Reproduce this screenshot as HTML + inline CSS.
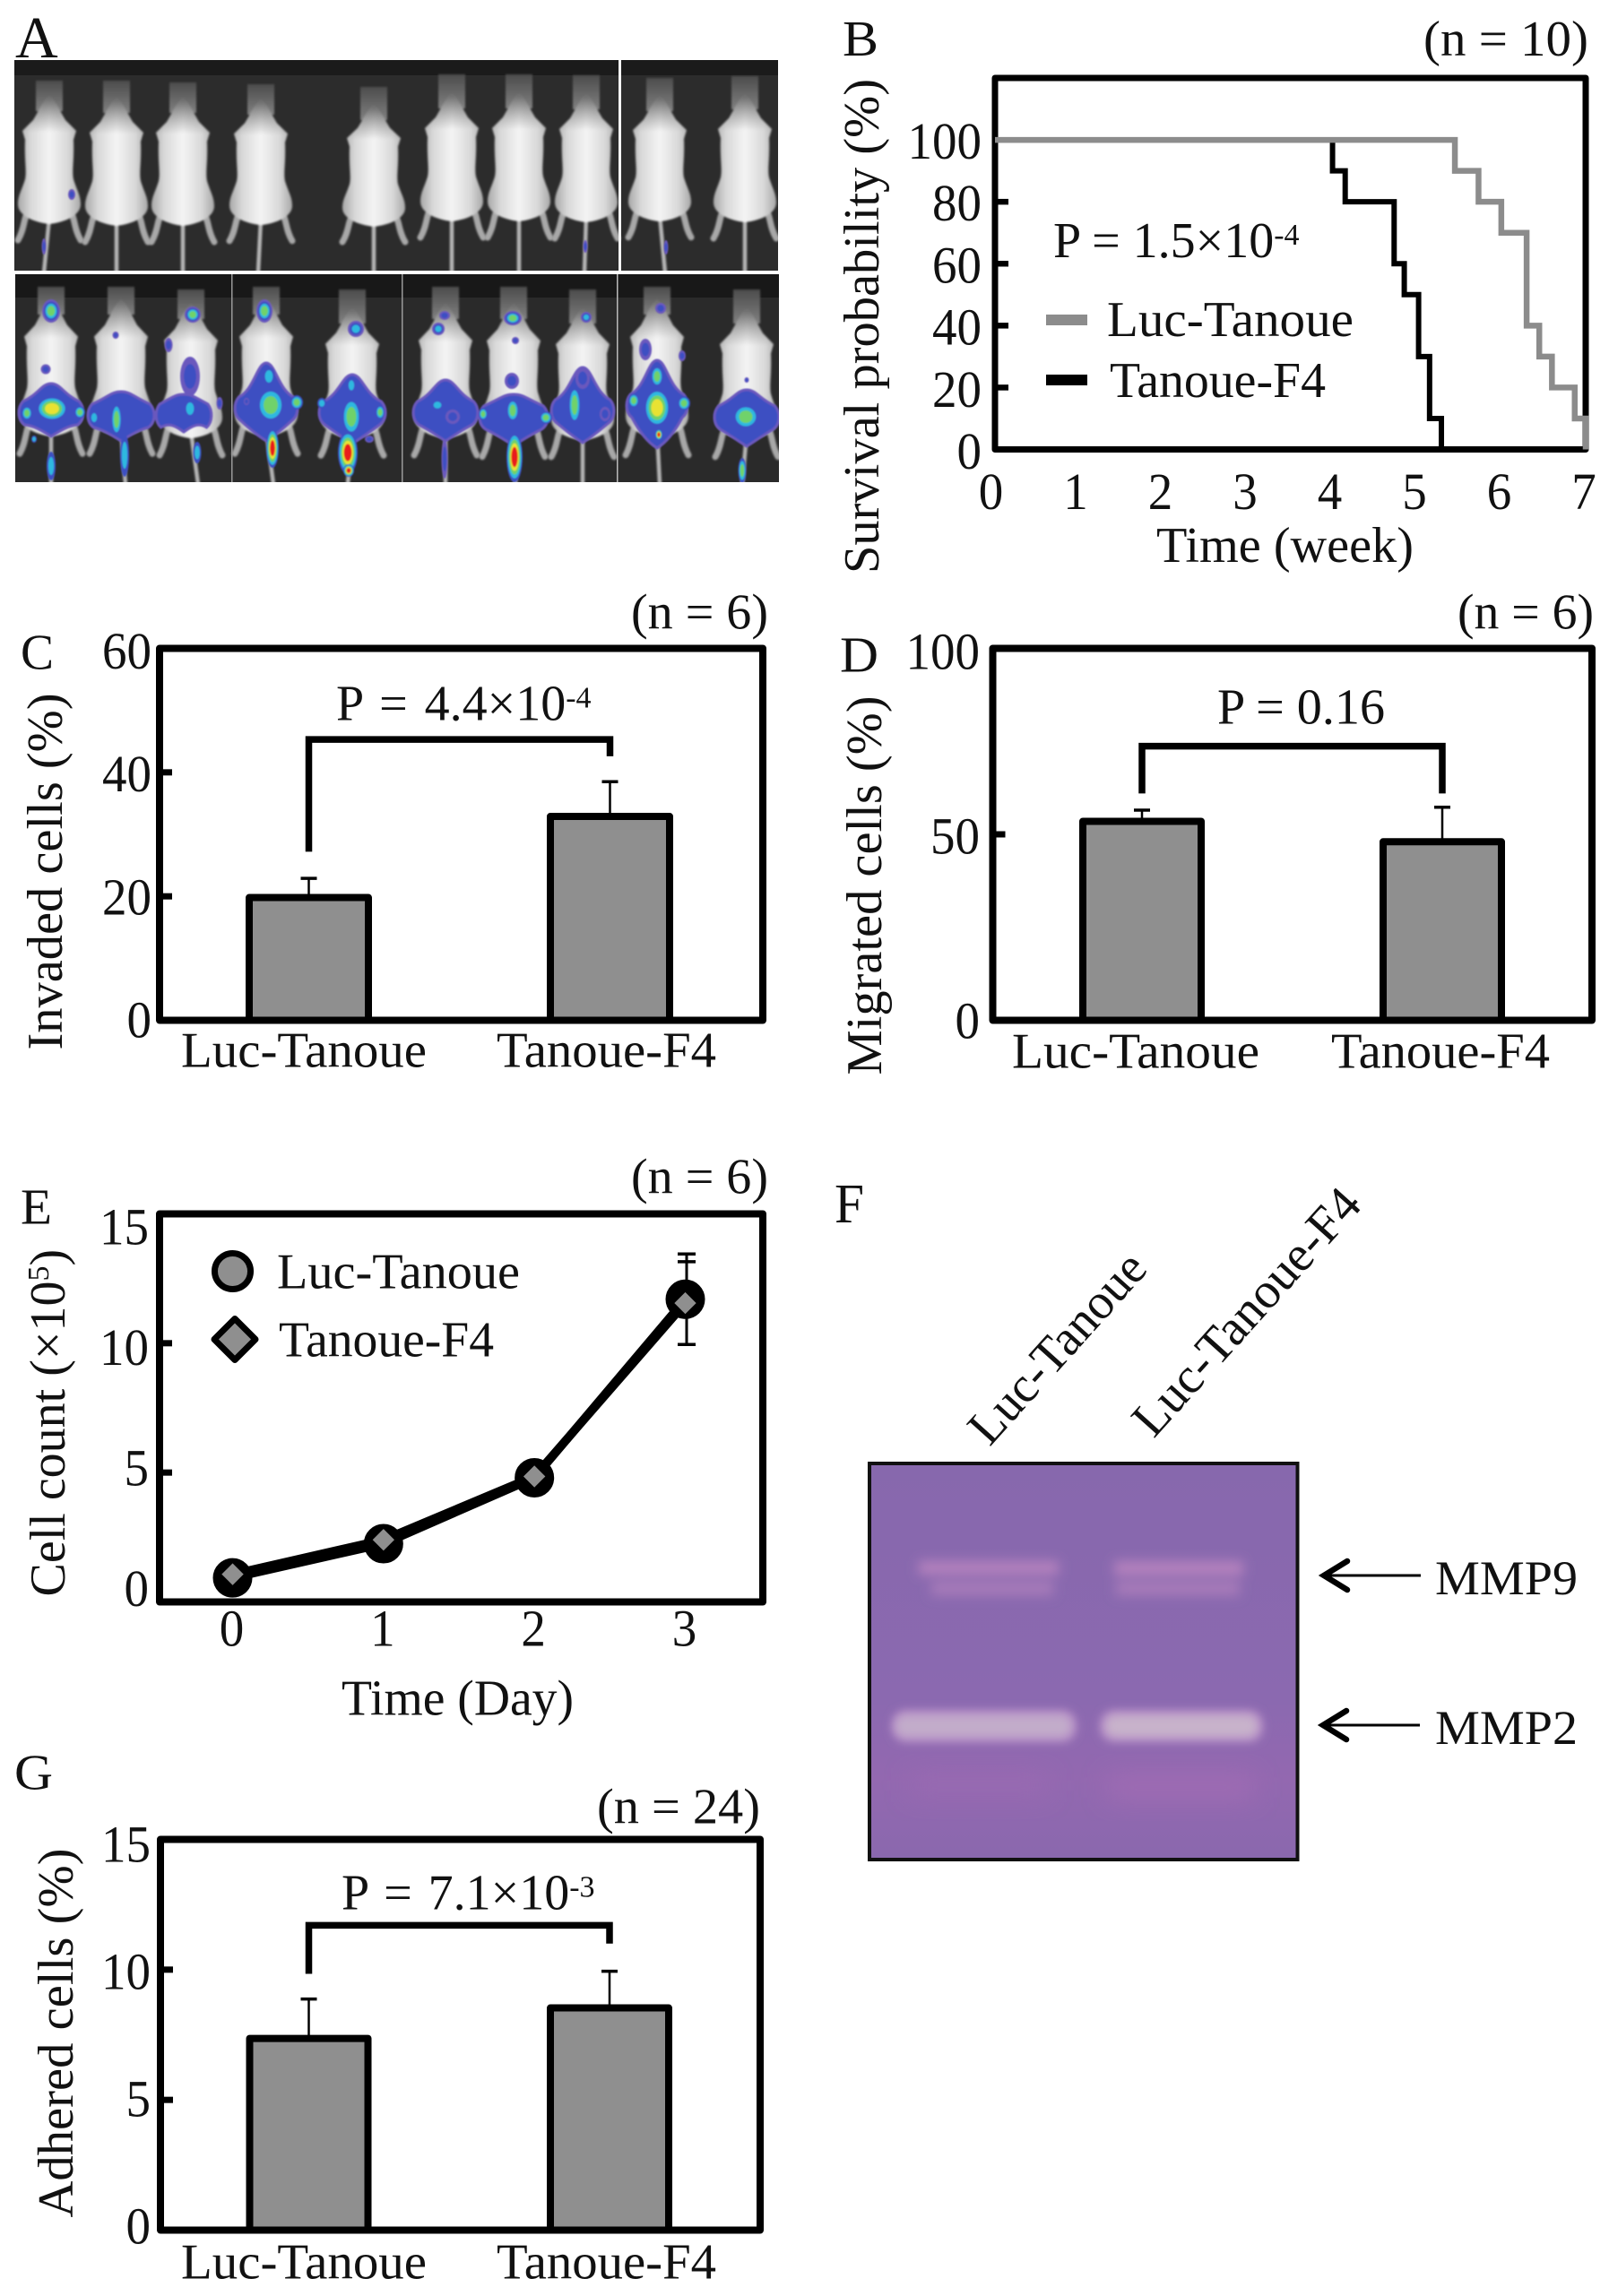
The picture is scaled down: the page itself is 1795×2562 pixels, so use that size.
<!DOCTYPE html>
<html lang="en">
<head>
<meta charset="utf-8">
<title>Tanoue-F4 figure</title>
<style>
html,body{margin:0;padding:0;background:#fff;}
svg{display:block;}
text{font-family:"Liberation Serif",serif;fill:#111;}
</style>
</head>
<body>
<svg id="fig" xmlns="http://www.w3.org/2000/svg" width="1795" height="2562" viewBox="0 0 1795 2562">
<defs>
  <filter id="blurS" x="-20%" y="-20%" width="140%" height="140%"><feGaussianBlur stdDeviation="1"/></filter>
  <filter id="blurH" x="-30%" y="-30%" width="160%" height="160%"><feGaussianBlur stdDeviation="0.7"/></filter>
  <filter id="blurG" x="-20%" y="-80%" width="140%" height="260%"><feGaussianBlur stdDeviation="5"/></filter>
  <filter id="blurM" x="-20%" y="-80%" width="140%" height="260%"><feGaussianBlur stdDeviation="6.5"/></filter>
  <filter id="blurL" x="-30%" y="-100%" width="160%" height="300%"><feGaussianBlur stdDeviation="14"/></filter>
  <linearGradient id="fur" x1="0" x2="1" y1="0" y2="0">
    <stop offset="0" stop-color="#a8a8a8"/><stop offset=".2" stop-color="#d8d8d8"/>
    <stop offset=".5" stop-color="#f4f4f4"/><stop offset=".8" stop-color="#d8d8d8"/><stop offset="1" stop-color="#a8a8a8"/>
  </linearGradient>
  <linearGradient id="headShade" x1="0" x2="0" y1="0" y2="1">
    <stop offset="0" stop-color="#444" stop-opacity=".8"/><stop offset=".28" stop-color="#666" stop-opacity="0"/>
  </linearGradient>
  <linearGradient id="tube" x1="0" x2="0" y1="0" y2="1">
    <stop offset="0" stop-color="#4c4c4c"/><stop offset="1" stop-color="#808080"/>
  </linearGradient>
  <linearGradient id="gelBg" x1="0" x2="0" y1="0" y2="1">
    <stop offset="0" stop-color="#8768ad"/><stop offset=".6" stop-color="#8b69b0"/><stop offset=".8" stop-color="#9368b0"/><stop offset="1" stop-color="#8a68ae"/>
  </linearGradient>
  <clipPath id="clipTop"><rect x="16" y="67" width="852" height="235"/></clipPath>
  <clipPath id="clipBot"><rect x="17" y="306" width="852" height="232"/></clipPath>
</defs>

<!-- Panel A -->
<g id="panelA">
  <text x="17" y="64" font-size="66">A</text>
  <g clip-path="url(#clipTop)">
    <rect x="16" y="67" width="852" height="235" fill="#2c2c2c"/>
    <rect x="16" y="67" width="852" height="17" fill="#1b1b1b"/>
    <g id="miceTop"></g>
    <rect x="690" y="67" width="3" height="235" fill="#f4f4f4"/>
  </g>
  <g clip-path="url(#clipBot)">
    <rect x="17" y="306" width="852" height="232" fill="#2a2a2a"/>
    <rect x="17" y="306" width="852" height="26" fill="#181818"/>
    <g id="miceBot"></g>
    <rect x="258" y="306" width="1.5" height="232" fill="#999"/>
    <rect x="448" y="306" width="1.5" height="232" fill="#999"/>
    <rect x="688" y="306" width="1.5" height="232" fill="#bbb"/>
  </g>
</g>

<!-- Panel B -->
<g id="panelB" transform="translate(-3,-1)">
  <text x="943" y="63" font-size="56" textLength="40" lengthAdjust="spacingAndGlyphs">B</text>
  <text x="1591" y="63" font-size="56" textLength="184" lengthAdjust="spacingAndGlyphs">(n = 10)</text>
  <text transform="translate(983,641) rotate(-90)" font-size="56" textLength="552" lengthAdjust="spacingAndGlyphs">Survival probability (%)</text>
  <text x="1293" y="628" font-size="56" textLength="287" lengthAdjust="spacingAndGlyphs">Time (week)</text>
  <text x="1178" y="288" font-size="56">P = 1.5×10<tspan font-size="34" dy="-14">-4</tspan></text>
  <line x1="1170" x2="1216" y1="358" y2="358" stroke="#8c8c8c" stroke-width="12"/>
  <line x1="1170" x2="1216" y1="425" y2="425" stroke="#000" stroke-width="12"/>
  <text x="1238" y="376" font-size="56" textLength="275" lengthAdjust="spacingAndGlyphs">Luc-Tanoue</text>
  <text x="1241" y="444" font-size="56" textLength="241" lengthAdjust="spacingAndGlyphs">Tanoue-F4</text>
</g>

<!-- Panel C -->
<g id="panelC" transform="translate(-3,-1.5)">
  <text x="26" y="748" font-size="56" textLength="37" lengthAdjust="spacingAndGlyphs">C</text>
  <text x="707" y="703" font-size="56" textLength="153" lengthAdjust="spacingAndGlyphs">(n = 6)</text>
  <text transform="translate(72,1173) rotate(-90)" font-size="56" textLength="398" lengthAdjust="spacingAndGlyphs">Invaded cells (%)</text>
  <text x="378" y="805" font-size="56" word-spacing="5">P = 4.4×10<tspan font-size="34" dy="-14">-4</tspan></text>
</g>

<!-- Panel D -->
<g id="panelD" transform="translate(-3,-1.5)">
  <text x="940" y="751" font-size="56" textLength="43" lengthAdjust="spacingAndGlyphs">D</text>
  <text x="1629" y="703" font-size="56" textLength="152" lengthAdjust="spacingAndGlyphs">(n = 6)</text>
  <text transform="translate(986,1201) rotate(-90)" font-size="56" textLength="423" lengthAdjust="spacingAndGlyphs">Migrated cells (%)</text>
  <text x="1361" y="809" font-size="56" textLength="187" lengthAdjust="spacingAndGlyphs">P = 0.16</text>
</g>

<!-- Panel E -->
<g id="panelE" transform="translate(-3,-1.5)">
  <text x="26" y="1367" font-size="56" textLength="35" lengthAdjust="spacingAndGlyphs">E</text>
  <text x="707" y="1333" font-size="56" textLength="153" lengthAdjust="spacingAndGlyphs">(n = 6)</text>
  <text transform="translate(75,1783) rotate(-90)" font-size="56">Cell count (×10<tspan font-size="34" dy="-18">5</tspan><tspan dy="18">)</tspan></text>
  <text x="384" y="1915" font-size="56" textLength="259" lengthAdjust="spacingAndGlyphs">Time (Day)</text>
  <text x="312" y="1439" font-size="56" textLength="271" lengthAdjust="spacingAndGlyphs">Luc-Tanoue</text>
  <text x="314" y="1515" font-size="56" textLength="240" lengthAdjust="spacingAndGlyphs">Tanoue-F4</text>
  <circle cx="262.5" cy="1420" r="20" fill="#8f8f8f" stroke="#000" stroke-width="7"/>
  <polygon points="265,1473 288,1496 265,1519 242,1496" fill="#8f8f8f" stroke="#000" stroke-width="7" stroke-linejoin="round"/>
</g>

<!-- Panel F -->
<g id="panelF" transform="translate(-3,-3)">
  <text x="934" y="1367" font-size="62" textLength="33" lengthAdjust="spacingAndGlyphs">F</text>
  <text transform="translate(1107,1618) rotate(-48)" font-size="56" textLength="266" lengthAdjust="spacingAndGlyphs">Luc-Tanoue</text>
  <text transform="translate(1290,1609) rotate(-48)" font-size="56" textLength="350" lengthAdjust="spacingAndGlyphs">Luc-Tanoue-F4</text>
  <rect x="973" y="1636" width="477.5" height="442" fill="url(#gelBg)"/>
  <g filter="url(#blurL)">
    <rect x="1240" y="1985" width="160" height="25" fill="#a06cb4"/>
    <rect x="1020" y="1985" width="150" height="20" fill="#9a6bb2"/>
  </g>
  <g filter="url(#blurM)">
    <rect x="1028" y="1745" width="156" height="15" fill="#b582be"/>
    <rect x="1042" y="1768" width="136" height="15" fill="#a87bba"/>
    <rect x="1246" y="1745" width="144" height="16" fill="#b582be"/>
    <rect x="1248" y="1768" width="138" height="15" fill="#a97cba"/>
  </g>
  <g filter="url(#blurG)">
    <rect x="998" y="1911" width="206" height="36" rx="16" fill="#b58ec6"/>
    <rect x="1230" y="1911" width="182" height="36" rx="16" fill="#b58ec6"/>
  </g>
  <g filter="url(#blurG)">
    <rect x="1002" y="1917" width="196" height="24" rx="12" fill="#c2acca"/>
    <rect x="1236" y="1917" width="170" height="24" rx="12" fill="#c8b2cb"/>
  </g>
  <rect x="973" y="1636" width="477.5" height="442" fill="none" stroke="#111" stroke-width="4"/>
  <g stroke="#000" fill="none">
    <line x1="1482" x2="1588" y1="1761" y2="1761" stroke-width="3"/>
    <path d="M1506,1745 L1480,1761 L1506,1777" stroke-width="6.5" stroke-linecap="round"/>
  </g>
  <g stroke="#000" fill="none">
    <line x1="1482" x2="1587" y1="1928" y2="1928" stroke-width="3"/>
    <path d="M1505,1912 L1479,1928 L1505,1944" stroke-width="6.5" stroke-linecap="round"/>
  </g>
  <text x="1604" y="1782" font-size="54" textLength="159" lengthAdjust="spacingAndGlyphs">MMP9</text>
  <text x="1604" y="1949" font-size="54" textLength="159" lengthAdjust="spacingAndGlyphs">MMP2</text>
</g>

<!-- Panel G -->
<g id="panelG" transform="translate(-3,-1.5)">
  <text x="19" y="1998" font-size="56" textLength="43" lengthAdjust="spacingAndGlyphs">G</text>
  <text x="669" y="2036" font-size="56" textLength="182" lengthAdjust="spacingAndGlyphs">(n = 24)</text>
  <text transform="translate(84,2476) rotate(-90)" font-size="56" textLength="412" lengthAdjust="spacingAndGlyphs">Adhered cells (%)</text>
  <text x="384" y="2132" font-size="56" word-spacing="4">P = 7.1×10<tspan font-size="34" dy="-14">-3</tspan></text>
</g>
</svg>

<script>
/* ---------- chart data ---------- */
const barCategories = ['Luc-Tanoue', 'Tanoue-F4'];

const bXTicks = [0, 1, 2, 3, 4, 5, 6, 7];
const bXTickLabels = ['0', '1', '2', '3', '4', '5', '6', '7'];
const bYTicks = [0, 20, 40, 60, 80, 100];
const bYTickLabels = ['0', '20', '40', '60', '80', '100'];
const bLucTimes = [0, 5.45, 5.73, 6.0, 6.3, 6.45, 6.6, 6.87, 7.0];
const bLucSurvival = [100, 90, 80, 70, 40, 30, 20, 10, 0];
const bF4Times = [0, 4.0, 4.15, 4.73, 4.85, 5.02, 5.15, 5.29];
const bF4Survival = [100, 90, 80, 60, 50, 30, 10, 0];

const cValues = [19.8, 32.9];
const cErrors = [3.1, 5.6];
const cYTicks = [0, 20, 40, 60];
const cYTickLabels = ['0', '20', '40', '60'];
const cBracket = [27.2, 45.3, 42.6];

const dValues = [53.5, 48];
const dErrors = [3, 9.3];
const dYTicks = [0, 50, 100];
const dYTickLabels = ['0', '50', '100'];
const dBracket = [61, 73.7, 61];

const eDays = [0, 1, 2, 3];
const eDayLabels = ['0', '1', '2', '3'];
const eYTicks = [0, 5, 10, 15];
const eYTickLabels = ['0', '5', '10', '15'];
const eLucCounts = [0.93, 2.25, 4.8, 11.7];
const eF4Counts = [1.07, 2.4, 4.85, 11.55];
const eLucErrors = [0.1, 0.2, 0.3, 1.75];
const eF4Errors = [0.1, 0.2, 0.3, 1.6];

const gValues = [7.36, 8.53];
const gErrors = [1.51, 1.41];
const gYTicks = [0, 5, 10, 15];
const gYTickLabels = ['0', '5', '10', '15'];
const gBracket = [9.84, 11.7, 11.0];

/* ---------- helpers ---------- */
const NS = 'http://www.w3.org/2000/svg';
const DIGIT_W = 27.5;
const TICK_FONT = 58;
function mk(tag, attrs, parent) {
  const el = document.createElementNS(NS, tag);
  for (const k in attrs) el.setAttribute(k, attrs[k]);
  parent.appendChild(el);
  return el;
}
function linear(d0, d1, r0, r1) {
  return function (v) { return r0 + (v - d0) / (d1 - d0) * (r1 - r0); };
}
function drawFrame(parent, l, t, r, b, w) {
  const el = mk('rect', { x: l, y: t, width: r - l, height: b - t, fill: 'none', stroke: '#000', 'stroke-width': w, 'stroke-linejoin': 'round' }, parent);
  
  
}
function drawYAxis(parent, ticks, labels, y, labelY, l, labelRight, tickLen, w) {
  const top = Math.max.apply(null, ticks);
  ticks.forEach(function (v, i) {
    if (v !== 0 && v !== top) {
      const tk = mk('line', { x1: l, x2: l + tickLen, y1: y(v), y2: y(v), stroke: '#000', 'stroke-width': w }, parent);
      
      
    }
    const tx = mk('text', { x: labelRight, y: labelY(v), 'font-size': TICK_FONT, 'text-anchor': 'end', textLength: labels[i].length * DIGIT_W, lengthAdjust: 'spacingAndGlyphs' }, parent);
    tx.textContent = labels[i];
    
    
  });
}

/* ---------- bar charts (C, D, G) ---------- */
function drawBarChart(parent, f, categories, values, errors, yTicks, yLabels, bracket) {
  const yMax = Math.max.apply(null, yTicks);
  const y = linear(0, yMax, f.b, f.t);
  const labelY = linear(0, yMax, f.labelBottom, f.labelTop);
  const x = function (i) { return f.c0 + i * f.dx; };
  categories.forEach(function (c, i) {
    const cap = mk('line', { x1: x(i) - 9, x2: x(i) + 9, y1: y(values[i] + errors[i]), y2: y(values[i] + errors[i]), stroke: '#000', 'stroke-width': 3.5 }, parent);
    
    
    const stem = mk('line', { x1: x(i), x2: x(i), y1: y(values[i] + errors[i]), y2: y(values[i]), stroke: '#000', 'stroke-width': 2.5 }, parent);
    
    
    const bar = mk('rect', { x: x(i) - f.bw / 2, y: y(values[i]), width: f.bw, height: y(0) - y(values[i]), fill: '#8f8f8f', stroke: '#000', 'stroke-width': 8, 'stroke-linejoin': 'round' }, parent);
    
    
    const lab = mk('text', { x: f.labelX[i], y: f.xLabelY, 'font-size': 56, textLength: f.labelW[i], lengthAdjust: 'spacingAndGlyphs' }, parent);
    lab.textContent = c;
    
    
  });
  drawFrame(parent, f.l, f.t, f.r, f.b, 8);
  drawYAxis(parent, yTicks, yLabels, y, labelY, f.l, f.labelRight, 14, 7);
  const br = mk('path', { d: 'M' + x(0) + ',' + y(bracket[0]) + ' L' + x(0) + ',' + y(bracket[1]) + ' L' + x(1) + ',' + y(bracket[1]) + ' L' + x(1) + ',' + y(bracket[2]), fill: 'none', stroke: '#000', 'stroke-width': 7.5 }, parent);
  
  
}
drawBarChart(document.getElementById('panelC'),
  { l: 181, r: 854, t: 725, b: 1140, c0: 347.5, dx: 336, bw: 133, labelTop: 747.5, labelBottom: 1159, labelRight: 172, labelX: [205, 557], labelW: [274, 245], xLabelY: 1192 },
  barCategories, cValues, cErrors, cYTicks, cYTickLabels, cBracket);
drawBarChart(document.getElementById('panelD'),
  { l: 1110.5, r: 1779, t: 725, b: 1140, c0: 1277, dx: 335, bw: 132, labelTop: 748, labelBottom: 1160, labelRight: 1096, labelX: [1132, 1488], labelW: [276, 244], xLabelY: 1193 },
  barCategories, dValues, dErrors, dYTicks, dYTickLabels, dBracket);
drawBarChart(document.getElementById('panelG'),
  { l: 182, r: 851, t: 2054, b: 2490, c0: 347.5, dx: 335.5, bw: 132, labelTop: 2079, labelBottom: 2505, labelRight: 171, labelX: [205, 557], labelW: [274, 245], xLabelY: 2544 },
  barCategories, gValues, gErrors, gYTicks, gYTickLabels, gBracket);

/* ---------- survival chart (B) ---------- */
(function () {
  const g = document.getElementById('panelB');
  const x = linear(0, 7, 1113, 1772);
  const y = linear(0, 120, 502.5, 88);
  const labelY = linear(0, 100, 524, 178);
  const labelX = linear(0, 7, 1108.5, 1770);
  function stepPath(ts, vs) {
    let d = 'M' + x(ts[0]) + ',' + y(vs[0]);
    for (let i = 1; i < ts.length; i++) {
      d += ' L' + x(ts[i]) + ',' + y(vs[i - 1]) + ' L' + x(ts[i]) + ',' + y(vs[i]);
    }
    return d;
  }
  drawFrame(g, 1113, 88, 1772, 502.5, 7);
  const f4 = mk('path', { d: stepPath(bF4Times, bF4Survival), fill: 'none', stroke: '#000', 'stroke-width': 6 }, g);
  
  
  const luc = mk('path', { d: stepPath(bLucTimes, bLucSurvival), fill: 'none', stroke: '#8c8c8c', 'stroke-width': 6.5 }, g);
  
  
  bYTicks.forEach(function (v, i) {
    if (v !== 0 && v !== 100) {
      const tk = mk('line', { x1: 1113, x2: 1128, y1: y(v), y2: y(v), stroke: '#000', 'stroke-width': 6.5 }, g);
      
      
    }
    const tx = mk('text', { x: 1098, y: labelY(v), 'font-size': TICK_FONT, 'text-anchor': 'end', textLength: bYTickLabels[i].length * DIGIT_W, lengthAdjust: 'spacingAndGlyphs' }, g);
    tx.textContent = bYTickLabels[i];
    
    
  });
  bXTicks.forEach(function (v, i) {
    const tx = mk('text', { x: labelX(v), y: 569, 'font-size': TICK_FONT, 'text-anchor': 'middle', textLength: DIGIT_W, lengthAdjust: 'spacingAndGlyphs' }, g);
    tx.textContent = bXTickLabels[i];
    
    
  });
})();

/* ---------- growth chart (E) ---------- */
(function () {
  const g = document.getElementById('panelE');
  const x = linear(0, 3, 262.5, 767.5);
  const y = linear(0, 15, 1789, 1356);
  const labelY = linear(0, 15, 1793.5, 1390);
  drawFrame(g, 181, 1356, 854, 1789, 8);
  drawYAxis(g, eYTicks, eYTickLabels, y, labelY, 181, 169, 14, 7);
  eDays.forEach(function (d, i) {
    const tx = mk('text', { x: x(d) - 1, y: 1838, 'font-size': TICK_FONT, 'text-anchor': 'middle', textLength: DIGIT_W, lengthAdjust: 'spacingAndGlyphs' }, g);
    tx.textContent = eDayLabels[i];
    
    
  });
  function errBar(i, vals, errs) {
    const cx = x(eDays[i]) + 1.5;
    [vals[i] + errs[i], vals[i] - errs[i]].forEach(function (v) {
      const cap = mk('line', { x1: cx - 10, x2: cx + 10, y1: y(v), y2: y(v), stroke: '#000', 'stroke-width': 3.5 }, g);
      
      
    });
    const st = mk('line', { x1: cx, x2: cx, y1: y(vals[i] + errs[i]), y2: y(vals[i] - errs[i]), stroke: '#000', 'stroke-width': 3 }, g);
    
    
  }
  eDays.forEach(function (d, i) { errBar(i, eLucCounts, eLucErrors); errBar(i, eF4Counts, eF4Errors); });
  function linePts(vals) { return eDays.map(function (d, i) { return x(d) + ',' + y(vals[i]); }).join(' '); }
  const l1 = mk('polyline', { points: linePts(eLucCounts), fill: 'none', stroke: '#000', 'stroke-width': 9.5 }, g);
  
  
  const l2 = mk('polyline', { points: linePts(eF4Counts), fill: 'none', stroke: '#000', 'stroke-width': 9.5 }, g);
  
  
  eDays.forEach(function (d, i) {
    const c = mk('circle', { cx: x(d), cy: y(eLucCounts[i]), r: 19, fill: '#000', stroke: '#000', 'stroke-width': 6 }, g);
    
    
  });
  eDays.forEach(function (d, i) {
    const px = x(d), py = y(eF4Counts[i]), h = 15;
    const p = mk('polygon', { points: px + ',' + (py - h) + ' ' + (px + h) + ',' + py + ' ' + px + ',' + (py + h) + ' ' + (px - h) + ',' + py, fill: '#8f8f8f', stroke: '#000', 'stroke-width': 4, 'stroke-linejoin': 'round' }, g);
    
    
  });
})();

/* ---------- panel A photo approximation (scene, not chart data) ---------- */
const heatColors = ['#6a58bd', '#3c4fc2', '#2fb8e0', '#6fd26a', '#e8e230', '#e81c1c'];
function heatBlob(parent, b) {
  const cx = b[0], cy = b[1], rx = b[2], ry = b[3], lvl = b[4];
  /* spots inside the pelvic signal have no purple halo */
  const start = cy < 400 || lvl < 2 ? 0 : 1;
  for (let k = start; k <= lvl; k++) {
    const f = 1 - (k - start) * 0.75 / (lvl + 1 - start);
    const e = mk('ellipse', { cx: cx, cy: cy, rx: Math.max(rx * f, 1), ry: Math.max(ry * f, 1), fill: heatColors[k] }, parent);
    
    
  }
}
function pelvis(parent, p) {
  const cx = p[0], top = p[1], hip = p[2], bot = p[3], w = p[4];
  const d = 'M' + cx + ',' + top +
    ' C' + (cx + w * .3) + ',' + top + ' ' + (cx + w * .4) + ',' + (hip - 20) + ' ' + (cx + w * .9) + ',' + (hip - 12) +
    ' C' + (cx + w * 1.08) + ',' + (hip - 5) + ' ' + (cx + w * 1.08) + ',' + (hip + 8) + ' ' + (cx + w * .85) + ',' + (hip + 14) +
    ' C' + (cx + w * .5) + ',' + (bot - 12) + ' ' + (cx + w * .2) + ',' + (bot - 4) + ' ' + cx + ',' + bot +
    ' C' + (cx - w * .2) + ',' + (bot - 4) + ' ' + (cx - w * .5) + ',' + (bot - 12) + ' ' + (cx - w * .85) + ',' + (hip + 14) +
    ' C' + (cx - w * 1.08) + ',' + (hip + 8) + ' ' + (cx - w * 1.08) + ',' + (hip - 5) + ' ' + (cx - w * .9) + ',' + (hip - 12) +
    ' C' + (cx - w * .4) + ',' + (hip - 20) + ' ' + (cx - w * .3) + ',' + top + ' ' + cx + ',' + top + ' Z';
  const e = mk('path', { d: d, fill: '#3c4fc2', stroke: '#6a58bd', 'stroke-width': 3 }, parent);
  
  
}
function mouse(parent, cx, tip, tubeTop, sy, bottom, tailDx) {
  const g = mk('g', { filter: 'url(#blurS)' }, parent);
  
  
  mk('rect', { x: cx - 15, y: tubeTop, width: 30, height: tip - tubeTop + 16, fill: 'url(#tube)' }, g);
  const Y = function (v) { return tip + v * sy; };
  mk('path', { d: 'M' + cx + ',' + Y(135) + ' L' + (cx + tailDx) + ',' + bottom, stroke: '#b5b5b5', 'stroke-width': 4.5, fill: 'none' }, g);
  [-1, 1].forEach(function (s) {
    mk('path', { d: 'M' + (cx + s * 20) + ',' + Y(125) + ' C' + (cx + s * 30) + ',' + Y(132) + ' ' + (cx + s * 26) + ',' + Y(145) + ' ' + (cx + s * 35) + ',' + Y(160), stroke: '#a8a8a8', 'stroke-width': 7, fill: 'none', 'stroke-linecap': 'round' }, g);
  });
  function side(s) {
    return ' C' + (cx + s * 8) + ',' + Y(6) + ' ' + (cx + s * 12) + ',' + Y(16) + ' ' + (cx + s * 18) + ',' + Y(26) +
      ' L' + (cx + s * 30) + ',' + Y(38) + ' L' + (cx + s * 27) + ',' + Y(48) +
      ' C' + (cx + s * 28) + ',' + Y(72) + ' ' + (cx + s * 25) + ',' + Y(82) + ' ' + (cx + s * 27) + ',' + Y(92) +
      ' C' + (cx + s * 31) + ',' + Y(105) + ' ' + (cx + s * 35) + ',' + Y(110) + ' ' + (cx + s * 35) + ',' + Y(120) +
      ' C' + (cx + s * 35) + ',' + Y(132) + ' ' + (cx + s * 18) + ',' + Y(140) + ' ' + cx + ',' + Y(142);
  }
  const d = 'M' + cx + ',' + tip + side(1) + ' M' + cx + ',' + tip + side(-1);
  mk('path', { d: d, fill: 'url(#fur)' }, g);
  mk('path', { d: d, fill: 'url(#headShade)' }, g);
}
const topMice = [[55, 108, 90, 1, -6], [130, 110, 90, 1, 0], [204, 110, 92, 1, 0], [291, 112, 94, .98, -3], [417, 118, 97, .95, 0], [504, 105, 83, 1, 0], [579, 105, 83, 1, 0], [654, 106, 84, 1, -2], [736, 108, 87, .98, 6], [831, 106, 85, 1, 0]];
const topHeat = [[80, 217, 4, 6, 1], [49, 275, 2.5, 9, 1], [653, 275, 2.5, 7, 1], [743, 276, 2.5, 8, 1]];
const botMice = [[57, 335, 320, 1.07, 0], [135, 335, 320, 1.07, 5], [213, 340, 323, 1.05, 8], [297, 335, 320, 1.07, 8], [393, 345, 323, 1.02, -5], [497, 340, 320, 1.05, 0], [573, 340, 320, 1.06, 2], [650, 345, 323, 1.03, 0], [733, 335, 320, 1.08, 3], [833, 345, 323, 1.03, -5]];
const botPelvis = [[57, 428, 460, 487, 35], [135, 437, 463, 492, 36], [205, 440, 463, 482, 30], [297, 405, 455, 492, 34], [393, 418, 460, 495, 36], [497, 424, 460, 492, 35], [573, 440, 465, 497, 37], [650, 410, 458, 494, 34], [733, 402, 452, 500, 33], [833, 435, 465, 498, 35]];
const botHeat = [
  [57, 347, 10, 13, 3], [51, 412, 5.5, 5.5, 1], [58, 456, 18, 14, 4], [30, 461, 6, 8, 3], [89, 460, 6, 7, 3], [38, 490, 3, 4, 2], [57, 520, 5, 16, 2],
  [129, 374, 3.5, 4, 1], [130, 468, 6, 19, 3], [105, 466, 5, 8, 2], [139, 508, 5, 24, 2],
  [215, 351, 9, 9, 3], [188, 385, 4.5, 8, 1], [212, 420, 11, 22, 1], [212, 456, 7, 11, 2], [220, 505, 4.5, 12, 2], [245, 450, 3.5, 7, 1],
  [295, 347, 9, 13, 3], [300, 420, 7, 11, 2], [302, 452, 16, 20, 3], [331, 449, 7, 8, 3], [275, 448, 3, 4, 1], [304, 500, 7, 22, 5],
  [397, 367, 9, 9, 2], [392, 465, 11, 22, 3], [392, 430, 5, 9, 2], [424, 460, 5, 8, 3], [359, 450, 5, 6, 2], [388, 505, 11, 24, 5], [389, 525, 6, 7, 5], [412, 490, 5, 4, 1],
  [496, 352, 6, 5, 1], [489, 367, 7, 7, 2], [488, 452, 7, 6, 2], [505, 465, 8, 8, 1], [496, 512, 3.5, 22, 1],
  [572, 355, 10, 8, 3], [575, 380, 4, 4, 1], [571, 425, 8, 9, 1], [572, 458, 7, 13, 3], [609, 466, 7, 7, 3], [539, 462, 5, 7, 3], [574, 510, 9, 28, 5],
  [654, 354, 6, 6, 2], [650, 422, 8, 12, 1], [641, 452, 7, 22, 3], [675, 462, 6, 8, 1],
  [737, 344, 6, 6, 1], [720, 390, 7, 12, 1], [761, 397, 4, 6, 1], [733, 420, 7, 12, 3], [733, 455, 15, 22, 4], [707, 447, 6, 8, 3], [763, 450, 7, 8, 3], [735, 485, 4, 6, 5],
  [833, 424, 2.5, 3, 1], [832, 465, 15, 14, 3], [828, 525, 4.5, 14, 3]
];
(function () {
  const mt = document.getElementById('miceTop');
  topMice.forEach(function (m) { mouse(mt, m[0], m[1], m[2], m[3], 304, m[4]); });
  const ht = mk('g', { filter: 'url(#blurH)' }, mt);
  
  
  topHeat.forEach(function (b) { heatBlob(ht, b); });
  const mb = document.getElementById('miceBot');
  botMice.forEach(function (m) { mouse(mb, m[0], m[1], m[2], m[3], 540, m[4]); });
  const hb = mk('g', { filter: 'url(#blurH)' }, mb);
  
  
  botPelvis.forEach(function (p) { pelvis(hb, p); });
  botHeat.forEach(function (b) { heatBlob(hb, b); });
})();
</script>
</body>
</html>
